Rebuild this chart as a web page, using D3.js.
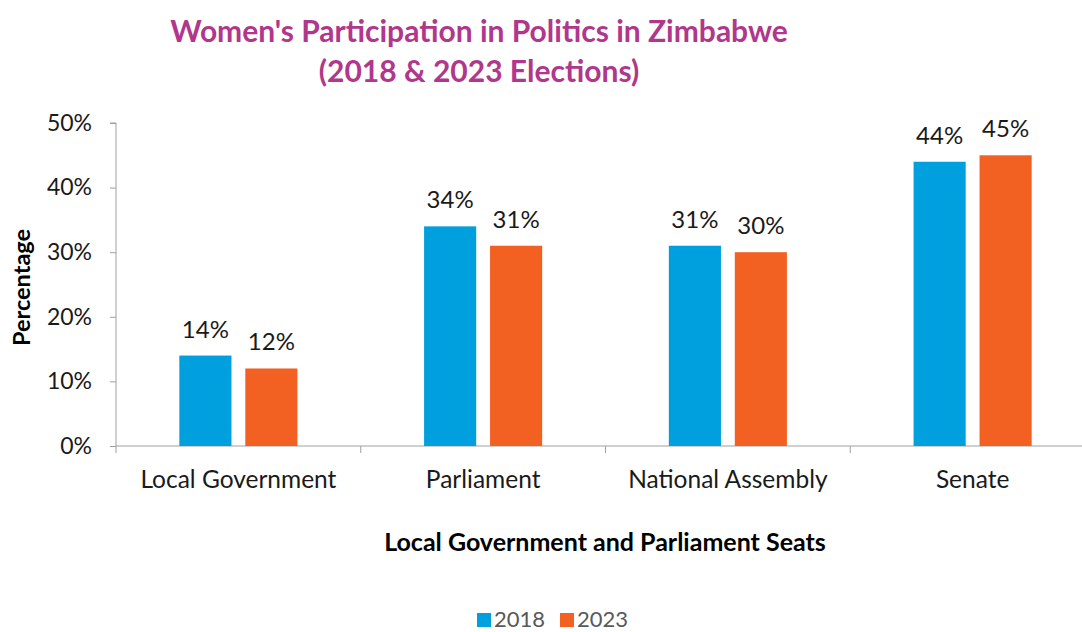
<!DOCTYPE html>
<html>
<head>
<meta charset="utf-8">
<script src="https://cdn.jsdelivr.net/npm/d3@7"></script>
<style>
  html, body { margin: 0; padding: 0; background: #fff; }
  svg { display: block; font-family: Lato, "Open Sans", sans-serif; }
</style>
</head>
<body>
<svg id="chart" width="1082" height="632"></svg>
<script>
// Seat categories and the share of seats held by women, per election year
const categories = ["Local Government", "Parliament", "National Assembly", "Senate"];
const years = ["2018", "2023"];
const values2018 = [14, 34, 31, 44];
const values2023 = [12, 31, 30, 45];
const yTicks = [0, 10, 20, 30, 40, 50];
const seriesColors = ["#009FDD", "#F26022"];

const svg = d3.select("#chart");
const plot = { left: 116, right: 1095, top: 123, bottom: 446 };

const x = d3.scaleBand().domain(categories).range([plot.left, plot.right]).paddingInner(0).paddingOuter(0);
const inner = d3.scaleBand().domain(years).range([0, x.bandwidth()]).paddingInner(0.21).paddingOuter(0.96);
const y = d3.scaleLinear().domain([0, 50]).range([plot.bottom, plot.top]);

const axisColor = "#A0A0A0";
const textColor = "#1a1a1a";

// Title
const title = svg.append("g").attr("fill", "#B0378C").attr("font-weight", 700).attr("font-size", 30).attr("text-anchor", "middle");
title.append("text").attr("x", 479).attr("y", 42).text("Women's Participation in Politics in Zimbabwe");
title.append("text").attr("x", 479).attr("y", 82).text("(2018 & 2023 Elections)");

// Y axis
const yAxis = svg.append("g")
  .attr("transform", `translate(${plot.left},0)`)
  .call(d3.axisLeft(y).tickValues(yTicks).tickFormat(d => d + "%").tickSize(6).tickPadding(18));
yAxis.select(".domain").attr("stroke", axisColor).attr("d", `M-6,${plot.top}H0V${plot.bottom}`);
yAxis.selectAll(".tick line").attr("stroke", axisColor);
yAxis.selectAll(".tick text").attr("fill", textColor).attr("font-size", 23).attr("font-family", "Lato, sans-serif");

// X axis: ticks at category boundaries
const xAxisG = svg.append("g").attr("transform", `translate(0,${plot.bottom})`);
xAxisG.append("line").attr("x1", plot.left).attr("x2", plot.right).attr("stroke", axisColor);
const boundaries = categories.map(c => x(c)).concat([x(categories[categories.length - 1]) + x.bandwidth()]);
xAxisG.selectAll("line.tick").data(boundaries).join("line")
  .attr("class", "tick").attr("x1", d => d).attr("x2", d => d).attr("y1", 0).attr("y2", 7).attr("stroke", axisColor);
xAxisG.selectAll("text.cat").data(categories).join("text")
  .attr("class", "cat")
  .attr("x", d => x(d) + x.bandwidth() / 2)
  .attr("y", 42)
  .attr("text-anchor", "middle").attr("font-size", 24.5).attr("fill", textColor)
  .text(d => d);

// Bars and value labels
const rows = categories.map((c, i) => ({ cat: c, vals: [values2018[i], values2023[i]] }));
const groups = svg.append("g").selectAll("g").data(rows).join("g")
  .attr("transform", d => `translate(${x(d.cat)},0)`);
groups.selectAll("rect").data(d => d.vals.map((v, j) => ({ year: years[j], v, j }))).join("rect")
  .attr("x", d => inner(d.year))
  .attr("width", inner.bandwidth())
  .attr("y", d => y(d.v))
  .attr("height", d => y(0) - y(d.v))
  .attr("fill", d => seriesColors[d.j]);
groups.selectAll("text").data(d => d.vals.map((v, j) => ({ year: years[j], v, j }))).join("text")
  .attr("x", d => inner(d.year) + inner.bandwidth() / 2)
  .attr("y", d => y(d.v) - 18)
  .attr("text-anchor", "middle").attr("font-size", 24).attr("fill", textColor)
  .text(d => d.v + "%");

// Axis titles
svg.append("text")
  .attr("transform", `translate(30,${(plot.top + plot.bottom) / 2 + 3}) rotate(-90)`)
  .attr("text-anchor", "middle").attr("font-size", 23.5).attr("font-weight", 700).attr("fill", "#000")
  .text("Percentage");
svg.append("text")
  .attr("x", 605).attr("y", 551)
  .attr("text-anchor", "middle").attr("font-size", 25).attr("font-weight", 700).attr("fill", "#000")
  .text("Local Government and Parliament Seats");

// Legend
const legend = svg.append("g");
const legendX = [477, 560];
years.forEach((yr, i) => {
  legend.append("rect").attr("x", legendX[i]).attr("y", 613).attr("width", 14).attr("height", 14).attr("fill", seriesColors[i]);
  legend.append("text").attr("x", legendX[i] + 17).attr("y", 627).attr("font-size", 22).attr("fill", "#595959").text(yr);
});
</script>
</body>
</html>
